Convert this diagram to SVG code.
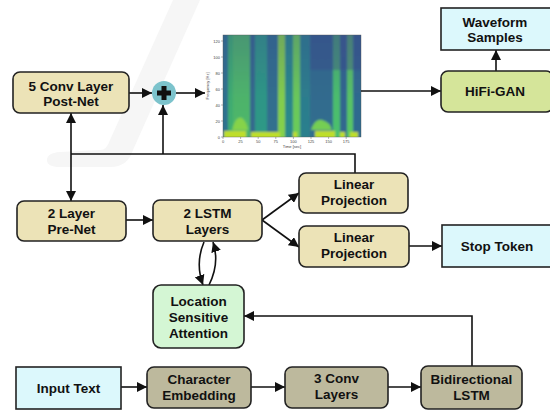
<svg xmlns="http://www.w3.org/2000/svg" width="550" height="410" viewBox="0 0 550 410">
<defs>
<style>
.box{stroke:#222;stroke-width:1.6}
.beige{fill:#ece3b7}
.olive{fill:#bdb99d}
.cyan{fill:#dcf8fc}
.lime{fill:#d5e59a}
.mint{fill:#d4f6d4}
.t{font-family:"Liberation Sans",Arial,sans-serif;font-weight:bold;font-size:13.5px;fill:#111;text-anchor:middle}
.c{fill:none;stroke:#111;stroke-width:1.6}
.ax{font-family:"Liberation Sans",Arial,sans-serif;font-size:4px;fill:#444;text-anchor:middle}
</style>
<marker id="ah" viewBox="0 0 10 10" refX="10" refY="5" markerWidth="10" markerHeight="10" markerUnits="userSpaceOnUse" orient="auto-start-reverse">
<path d="M0,0 L10,5 L0,10 z" fill="#111"/>
</marker>
<linearGradient id="topdark" x1="0" y1="0" x2="0" y2="1">
<stop offset="0" stop-color="#3a3f8a" stop-opacity="0.3"/>
<stop offset="0.6" stop-color="#3a3f8a" stop-opacity="0.05"/>
<stop offset="1" stop-color="#3a3f8a" stop-opacity="0"/>
</linearGradient>
<clipPath id="plot"><rect x="223" y="35" width="138" height="102"/></clipPath>
<filter id="soft" x="-5%" y="-5%" width="110%" height="110%">
<feGaussianBlur stdDeviation="1.1"/>
</filter>
</defs>
<rect width="550" height="410" fill="#fff"/>
<path d="M173,0 L200,0 L133,150 Q128,167 110,167 L60,167 Q47,167 47,160 Q47,153 60,152 L100,150 Q107,150 110,140 Z" fill="#f6f6f6"/>

<g id="spectrogram">
<g clip-path="url(#plot)">
<g filter="url(#soft)">
<rect x="218" y="30" width="148" height="112" fill="#2b8a8b"/>
<rect x="218" y="30" width="10" height="112" fill="#2f748e"/>
<rect x="228" y="30" width="5" height="112" fill="#3fb070"/>
<rect x="233" y="30" width="17" height="112" fill="#4fb96a"/>
<rect x="250" y="30" width="5" height="112" fill="#356a8d"/>
<rect x="255" y="30" width="12" height="112" fill="#2e9a86"/>
<rect x="267" y="30" width="11" height="112" fill="#31708e"/>
<rect x="278" y="30" width="7" height="112" fill="#86d34a"/>
<rect x="285" y="30" width="8" height="112" fill="#2a8a8a"/>
<rect x="293" y="30" width="7" height="112" fill="#6ccd59"/>
<rect x="300" y="30" width="10" height="112" fill="#2c808d"/>
<rect x="310" y="30" width="23" height="112" fill="#306e8e"/>
<rect x="333" y="30" width="7" height="112" fill="#4cc26c"/>
<rect x="340" y="30" width="7" height="112" fill="#31688e"/>
<rect x="347" y="30" width="6" height="112" fill="#5ac864"/>
<rect x="353" y="30" width="13" height="112" fill="#2f6c8e"/>
<rect x="310" y="30" width="56" height="40" fill="#3f4a8a" opacity="0.4"/>
<rect x="218" y="30" width="148" height="112" fill="url(#topdark)"/>
<path d="M232,130 Q236,115 242,118 Q247,122 248,130 Z" fill="#86d34a"/>
<path d="M311,130 Q315,118 322,120 Q330,122 332,130 Z" fill="#74ce52"/>
<g fill="#bede2a">
<rect x="224" y="131" width="22" height="8"/>
<rect x="251" y="132" width="29" height="7"/>
<rect x="293" y="132" width="4" height="7"/>
<rect x="315" y="131" width="20" height="8"/>
<rect x="340" y="132" width="5" height="7"/>
<rect x="350" y="132" width="8" height="7"/>
</g>
</g>
</g>
<rect x="223" y="35" width="138" height="102" fill="none" stroke="#555" stroke-width="0.4"/>
<g stroke="#444" stroke-width="0.4">
<path d="M221,137 H223 M221,121 H223 M221,105 H223 M221,89 H223 M221,73 H223 M221,57 H223 M221,41 H223"/>
<path d="M223,137 V139 M240.6,137 V139 M258.2,137 V139 M275.8,137 V139 M293.4,137 V139 M311,137 V139 M328.6,137 V139 M346.2,137 V139"/>
</g>
<g class="ax">
<text x="220" y="138.5" style="text-anchor:end">0</text>
<text x="220" y="122.5" style="text-anchor:end">20</text>
<text x="220" y="106.5" style="text-anchor:end">40</text>
<text x="220" y="90.5" style="text-anchor:end">60</text>
<text x="220" y="74.5" style="text-anchor:end">80</text>
<text x="220" y="58.5" style="text-anchor:end">100</text>
<text x="220" y="42.5" style="text-anchor:end">120</text>
</g>
<g class="ax">
<text x="223" y="143">0</text>
<text x="240.6" y="143">25</text>
<text x="258.2" y="143">50</text>
<text x="275.8" y="143">75</text>
<text x="293.4" y="143">100</text>
<text x="311" y="143">125</text>
<text x="328.6" y="143">150</text>
<text x="346.2" y="143">175</text>
<text x="292" y="148">Time [sec]</text>
<text transform="translate(209,86) rotate(-90)">Frequency [Hz]</text>
</g>
</g>

<g id="connectors">
<path class="c" d="M129,93 H152" marker-end="url(#ah)"/>
<path class="c" d="M176,93 H205" marker-end="url(#ah)"/>
<path class="c" d="M361,91 H441" marker-end="url(#ah)"/>
<path class="c" d="M496,71 V50" marker-end="url(#ah)"/>
<path class="c" d="M355,173 V154 H71"/>
<path class="c" d="M71,154 V113" marker-end="url(#ah)"/>
<path class="c" d="M71,154 V201" marker-end="url(#ah)"/>
<path class="c" d="M163,154 V105" marker-end="url(#ah)"/>
<path class="c" d="M126,220 H153" marker-end="url(#ah)"/>
<path class="c" d="M262,220 L299,193" marker-end="url(#ah)"/>
<path class="c" d="M262,220 L299,247" marker-end="url(#ah)"/>
<path class="c" d="M409,246 H442" marker-end="url(#ah)"/>
<path class="c" d="M204,242 Q195,263 203,285" marker-end="url(#ah)"/>
<path class="c" d="M209,285 Q220,263 213,242" marker-end="url(#ah)"/>
<path class="c" d="M472,366 V316 H244" marker-end="url(#ah)"/>
<path class="c" d="M121,387 H147" marker-end="url(#ah)"/>
<path class="c" d="M251,387 H285" marker-end="url(#ah)"/>
<path class="c" d="M388,387 H421" marker-end="url(#ah)"/>
</g>

<g id="postnet">
<rect class="box beige" x="13" y="72" width="116" height="41" rx="7"/>
<text class="t" x="71" y="91">5 Conv Layer</text>
<text class="t" x="71" y="106">Post-Net</text>
</g>
<g id="plus">
<circle cx="164" cy="93" r="12" fill="#7cc3cc"/>
<path d="M161.5,86 H166.5 V90.5 H171 V95.5 H166.5 V100 H161.5 V95.5 H157 V90.5 H161.5 Z" fill="#111"/>
</g>
<g id="hifigan">
<rect class="box lime" x="441" y="71" width="112" height="41" rx="7"/>
<text class="t" x="495" y="96">HiFi-GAN</text>
</g>
<g id="waveform">
<rect class="box cyan" x="441" y="8" width="112" height="42"/>
<text class="t" x="495" y="27">Waveform</text>
<text class="t" x="495" y="42">Samples</text>
</g>
<g id="prenet">
<rect class="box beige" x="17" y="201" width="109" height="40" rx="7"/>
<text class="t" x="71.5" y="218">2 Layer</text>
<text class="t" x="71.5" y="234">Pre-Net</text>
</g>
<g id="lstm">
<rect class="box beige" x="153" y="200" width="109" height="41" rx="7"/>
<text class="t" x="207.5" y="218">2 LSTM</text>
<text class="t" x="207.5" y="234">Layers</text>
</g>
<g id="linproj1">
<rect class="box beige" x="299" y="173" width="109" height="40" rx="7"/>
<text class="t" x="354" y="189">Linear</text>
<text class="t" x="354" y="205">Projection</text>
</g>
<g id="linproj2">
<rect class="box beige" x="299" y="226" width="110" height="41" rx="7"/>
<text class="t" x="354" y="242">Linear</text>
<text class="t" x="354" y="258">Projection</text>
</g>
<g id="stoptoken">
<rect class="box cyan" x="442" y="225" width="112" height="42"/>
<text class="t" x="497" y="251">Stop Token</text>
</g>
<g id="attention">
<rect class="box mint" x="153" y="285" width="91" height="63" rx="8"/>
<text class="t" x="198.5" y="306">Location</text>
<text class="t" x="198.5" y="322">Sensitive</text>
<text class="t" x="198.5" y="338">Attention</text>
</g>
<g id="inputtext">
<rect class="box cyan" x="16" y="367" width="105" height="42"/>
<text class="t" x="68.5" y="393">Input Text</text>
</g>
<g id="charemb">
<rect class="box olive" x="147" y="367" width="104" height="41" rx="7"/>
<text class="t" x="199" y="384">Character</text>
<text class="t" x="199" y="400">Embedding</text>
</g>
<g id="conv3">
<rect class="box olive" x="285" y="367" width="103" height="41" rx="7"/>
<text class="t" x="336.5" y="383">3 Conv</text>
<text class="t" x="336.5" y="399">Layers</text>
</g>
<g id="bilstm">
<rect class="box olive" x="421" y="366" width="101" height="43" rx="7"/>
<text class="t" x="471.5" y="384">Bidirectional</text>
<text class="t" x="471.5" y="400">LSTM</text>
</g>
</svg>
